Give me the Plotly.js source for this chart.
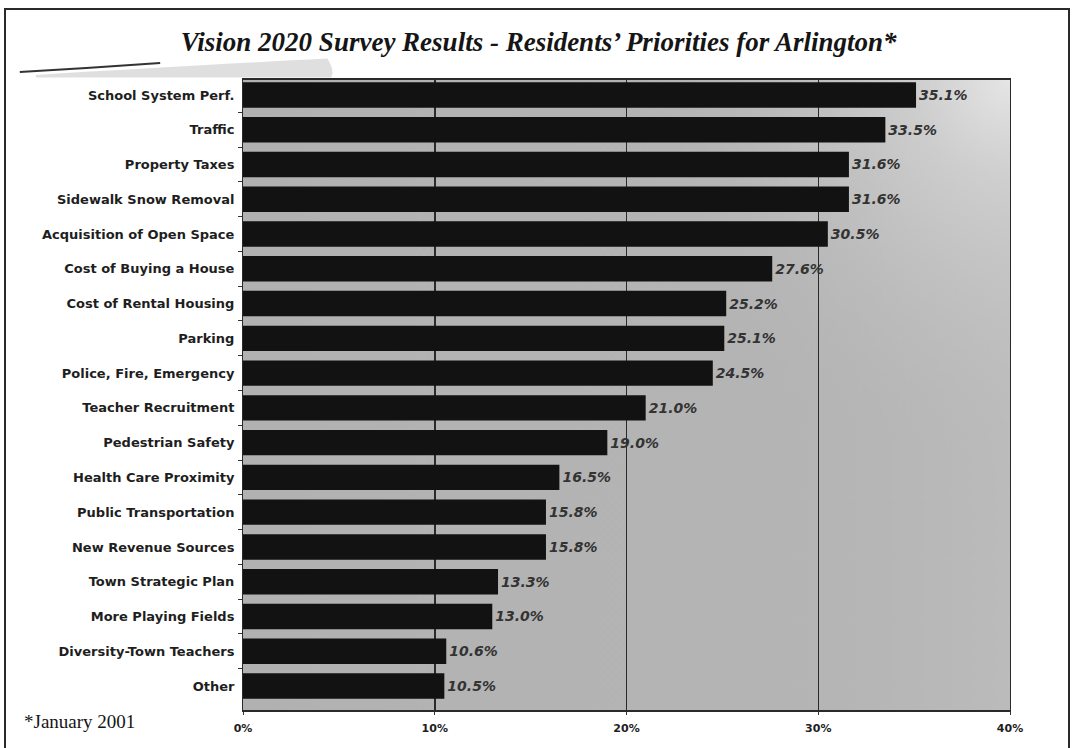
<!DOCTYPE html>
<html>
<head>
<meta charset="utf-8">
<script src="https://cdn.plot.ly/plotly-3.0.1.min.js"></script>
<style>
  html, body { margin: 0; padding: 0; background: #ffffff; }
  #wrap { position: relative; width: 1073px; height: 748px; overflow: hidden; }
  #chart { width: 1073px; height: 748px; }
  #frame { position: absolute; left: 4px; top: 8px; width: 1062px; height: 760px;
           border: 2px solid #2a2a2a; pointer-events: none; }
</style>
</head>
<body>
<div id="wrap">
  <div id="chart"></div>
  <div id="frame"></div>
</div>
<script>
// ---- data ----
const categories = [
  "School System Perf.",
  "Traffic",
  "Property Taxes",
  "Sidewalk Snow Removal",
  "Acquisition of Open Space",
  "Cost of Buying a House",
  "Cost of Rental Housing",
  "Parking",
  "Police, Fire, Emergency",
  "Teacher Recruitment",
  "Pedestrian Safety",
  "Health Care Proximity",
  "Public Transportation",
  "New Revenue Sources",
  "Town Strategic Plan",
  "More Playing Fields",
  "Diversity-Town Teachers",
  "Other"
];
const values = [35.1, 33.5, 31.6, 31.6, 30.5, 27.6, 25.2, 25.1, 24.5, 21.0, 19.0, 16.5, 15.8, 15.8, 13.3, 13.0, 10.6, 10.5];
const valueLabels = values.map(v => v.toFixed(1) + "%");
const xTickValues = [0, 10, 20, 30, 40];
const xTickLabels = ["0%", "10%", "20%", "30%", "40%"];
const titleText = "Vision 2020 Survey Results - Residents\u2019 Priorities for Arlington*";
const footnoteText = "*January 2001";

// ---- background texture (gradient) ----
function makeBg() {
  const c = document.createElement("canvas");
  c.width = 400; c.height = 320;
  const g = c.getContext("2d");
  g.fillStyle = "#b4b4b4";
  g.fillRect(0, 0, c.width, c.height);
  const rg = g.createRadialGradient(c.width, 0, 0, c.width, 0, c.width * 0.5);
  rg.addColorStop(0, "rgba(240,240,240,1)");
  rg.addColorStop(0.25, "rgba(215,215,215,0.8)");
  rg.addColorStop(1, "rgba(180,180,180,0)");
  g.fillStyle = rg;
  g.fillRect(0, 0, c.width, c.height);
  const lg = g.createLinearGradient(0, 0, c.width, 0);
  lg.addColorStop(0, "rgba(165,165,165,0.2)");
  lg.addColorStop(0.6, "rgba(180,180,180,0)");
  lg.addColorStop(1, "rgba(205,205,205,0.3)");
  g.fillStyle = lg;
  g.fillRect(0, 0, c.width, c.height);
  return c.toDataURL("image/png");
}

const trace = {
  type: "bar",
  orientation: "h",
  y: categories,
  x: values,
  text: valueLabels,
  textposition: "outside",
  cliponaxis: false,
  textfont: { family: "DejaVu Sans", size: 14, color: "#333333", weight: "bold", style: "italic" },
  marker: { color: "#121212", line: { width: 0 } },
  hoverinfo: "skip"
};

const layout = {
  width: 1073,
  height: 748,
  margin: { l: 243, r: 63, t: 80, b: 38 },
  paper_bgcolor: "#ffffff",
  plot_bgcolor: "#b4b4b4",
  bargap: 0.27,
  showlegend: false,
  title: {
    text: "<b><i>" + titleText + "</i></b>",
    font: { family: "Liberation Serif", size: 27, color: "#151515" },
    x: 0.502, xanchor: "center", xref: "container",
    y: 0.944, yanchor: "middle", yref: "container"
  },
  xaxis: {
    range: [0, 40],
    tickvals: xTickValues,
    ticktext: xTickLabels,
    tickfont: { family: "DejaVu Sans", size: 11, color: "#1e1e1e", weight: "bold" },
    ticks: "outside",
    ticklen: 3,
    tickcolor: "#333333",
    ticklabelstandoff: 4,
    showgrid: true,
    gridcolor: "#2a2a2a",
    gridwidth: 1.5,
    showline: true,
    linecolor: "#2a2a2a",
    linewidth: 2,
    mirror: true,
    zeroline: false,
    fixedrange: true
  },
  yaxis: {
    type: "category",
    categoryorder: "array",
    categoryarray: categories,
    range: [17.69, -0.43],
    tickfont: { family: "DejaVu Sans", size: 13, color: "#1e1e1e", weight: "bold" },
    ticks: "outside",
    tickson: "boundaries",
    ticklen: 4,
    tickcolor: "#333333",
    ticklabelstandoff: 5,
    showgrid: false,
    showline: true,
    linecolor: "#2a2a2a",
    linewidth: 1,
    mirror: true,
    zeroline: false,
    fixedrange: true
  },
  images: [{
    source: makeBg(),
    xref: "paper", yref: "paper",
    x: 0, y: 1, sizex: 1, sizey: 1,
    xanchor: "left", yanchor: "top",
    sizing: "stretch",
    layer: "below"
  }],
  shapes: [
    { // scan smudge above the chart (light grey streak)
      type: "path", xref: "paper", yref: "paper", layer: "below",
      path: "M -0.27 1.008 Q -0.05 1.024 0.11 1.034 Q 0.12 1.015 0.115 1.004 L -0.27 1.004 Z",
      fillcolor: "rgba(185,185,185,0.45)", line: { width: 0 }
    },
    { // dark scan stroke at upper left
      type: "path", xref: "paper", yref: "paper",
      path: "M -0.291 1.0127 Q -0.2 1.019 -0.108 1.027",
      line: { color: "#333333", width: 2 }
    }
  ],
  annotations: [{
    text: footnoteText,
    xref: "paper", yref: "paper",
    x: -0.288, y: -0.019,
    xanchor: "left", yanchor: "middle",
    showarrow: false,
    font: { family: "Liberation Serif", size: 19, color: "#151515" }
  }]
};

Plotly.newPlot("chart", [trace], layout, { displayModeBar: false, staticPlot: true });
</script>
</body>
</html>
